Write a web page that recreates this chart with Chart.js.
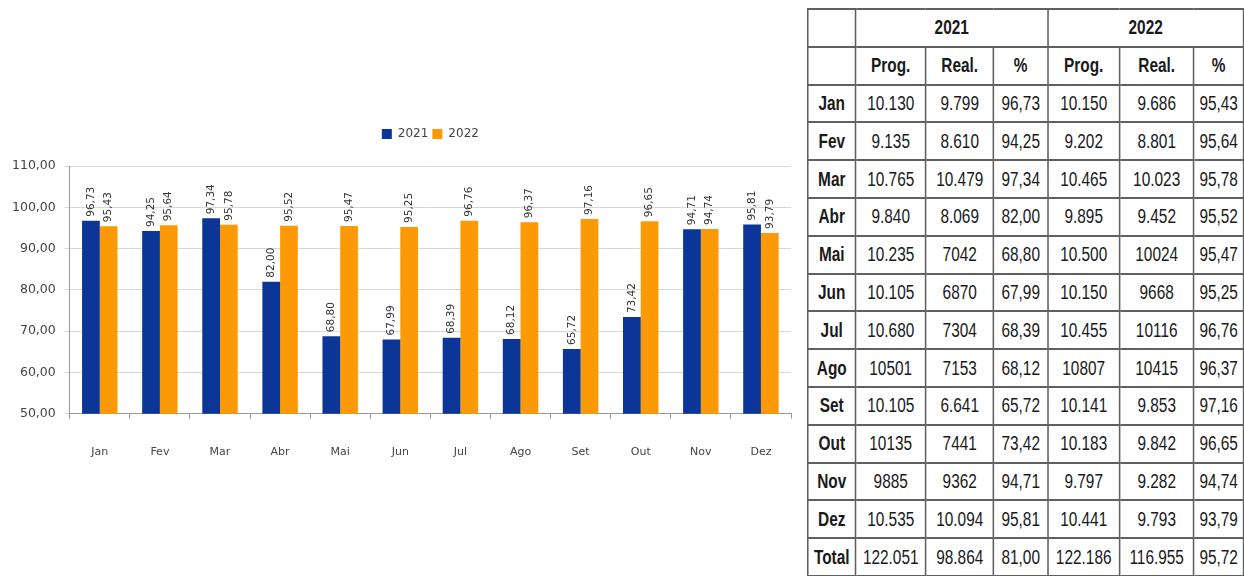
<!DOCTYPE html>
<html>
<head>
<meta charset="utf-8">
<script src="https://cdn.jsdelivr.net/npm/chart.js@4/dist/chart.umd.min.js"></script>
<style>
  body { margin: 0; background: #fff; width: 1244px; height: 576px; overflow: hidden; position: relative; }
  #chartBox { position: absolute; left: 0; top: 0; width: 800px; height: 576px; }
  #tbl { position: absolute; left: 807px; top: 8px; border-collapse: collapse; table-layout: fixed;
         transform: scaleX(0.77); transform-origin: 0 0;
         font-family: "Liberation Sans", Arial, sans-serif; font-size: 20px; color: #1a1a1a; }
  #tbl td { border: 2px solid #606060; height: 35.8px; padding: 0; text-align: center; white-space: nowrap; overflow: hidden; }
  #tbl td.b { font-weight: bold; }
</style>
</head>
<body>
<div id="chartBox"><canvas id="barChart"></canvas></div>
<table id="tbl"></table>
<script>
// chart data
var months = ["Jan", "Fev", "Mar", "Abr", "Mai", "Jun", "Jul", "Ago", "Set", "Out", "Nov", "Dez"];
var pct2021 = [96.73, 94.25, 97.34, 82.00, 68.80, 67.99, 68.39, 68.12, 65.72, 73.42, 94.71, 95.81];
var pct2022 = [95.43, 95.64, 95.78, 95.52, 95.47, 95.25, 96.76, 96.37, 97.16, 96.65, 94.74, 93.79];

// table data (as printed)
var tblRows = ["Jan", "Fev", "Mar", "Abr", "Mai", "Jun", "Jul", "Ago", "Set", "Out", "Nov", "Dez", "Total"];
var prog2021 = ["10.130", "9.135", "10.765", "9.840", "10.235", "10.105", "10.680", "10501", "10.105", "10135", "9885", "10.535", "122.051"];
var real2021 = ["9.799", "8.610", "10.479", "8.069", "7042", "6870", "7304", "7153", "6.641", "7441", "9362", "10.094", "98.864"];
var perc2021 = ["96,73", "94,25", "97,34", "82,00", "68,80", "67,99", "68,39", "68,12", "65,72", "73,42", "94,71", "95,81", "81,00"];
var prog2022 = ["10.150", "9.202", "10.465", "9.895", "10.500", "10.150", "10.455", "10807", "10.141", "10.183", "9.797", "10.441", "122.186"];
var real2022 = ["9.686", "8.801", "10.023", "9.452", "10024", "9668", "10116", "10415", "9.853", "9.842", "9.282", "9.793", "116.955"];
var perc2022 = ["95,43", "95,64", "95,78", "95,52", "95,47", "95,25", "96,76", "96,37", "97,16", "96,65", "94,74", "93,79", "95,72"];

var colW = [48, 70, 68, 54, 72, 74, 50];
var squeeze = 0.77;

// build table (drawn wide, then squeezed horizontally like a condensed font)
var tbl = document.getElementById("tbl");
var total = 0;
var cg = "<colgroup>";
colW.forEach(function (w) { cg += '<col style="width:' + (w / squeeze).toFixed(1) + 'px">'; total += w / squeeze; });
cg += "</colgroup>";
tbl.style.width = total.toFixed(1) + "px";
var html = cg;
html += '<tr><td></td><td class="b" colspan="3">2021</td><td class="b" colspan="3">2022</td></tr>';
html += '<tr><td></td><td class="b">Prog.</td><td class="b">Real.</td><td class="b">%</td><td class="b">Prog.</td><td class="b">Real.</td><td class="b">%</td></tr>';
tblRows.forEach(function (m, i) {
    html += '<tr><td class="b">' + m + '</td><td>' + prog2021[i] + '</td><td>' + real2021[i] + '</td><td>' + perc2021[i] +
        '</td><td>' + prog2022[i] + '</td><td>' + real2022[i] + '</td><td>' + perc2022[i] + '</td></tr>';
});
tbl.innerHTML = html;

function fmt(v) { return v.toFixed(2).replace(".", ","); }

// rotated value labels above bars
var barLabels = {
    id: "barLabels",
    afterDatasetsDraw: function (chart) {
        var ctx = chart.ctx;
        ctx.save();
        ctx.font = "10.5px 'DejaVu Sans'";
        ctx.fillStyle = "#333";
        ctx.textAlign = "left";
        ctx.textBaseline = "middle";
        chart.data.datasets.forEach(function (ds, di) {
            chart.getDatasetMeta(di).data.forEach(function (bar, i) {
                ctx.save();
                ctx.translate(bar.x, bar.y - 4);
                ctx.rotate(-Math.PI / 2);
                ctx.fillText(fmt(ds.data[i]), 0, 0);
                ctx.restore();
            });
        });
        ctx.restore();
    }
};

// extra gap under the legend
var legendGap = {
    id: "legendGap",
    beforeInit: function (chart) {
        var origFit = chart.legend.fit;
        chart.legend.fit = function () {
            origFit.call(this);
            this.height += 16;
        };
    }
};

new Chart(document.getElementById("barChart"), {
    type: "bar",
    data: {
        labels: months,
        datasets: [
            { label: "2021", data: pct2021, backgroundColor: "#0b3596" },
            { label: "2022", data: pct2022, backgroundColor: "#fb9a06" }
        ]
    },
    options: {
        responsive: true,
        maintainAspectRatio: false,
        animation: false,
        layout: { padding: { top: 124, left: 3, right: 9, bottom: 90 } },
        datasets: { bar: { categoryPercentage: 0.59, barPercentage: 1.0 } },
        scales: {
            x: {
                grid: { display: true, drawOnChartArea: false, tickLength: 5, color: "#999" },
                border: { color: "#999" },
                ticks: { color: "#444", font: { family: "DejaVu Sans", size: 11 }, padding: 27 }
            },
            y: {
                min: 50, max: 110,
                ticks: { stepSize: 10, color: "#444", font: { family: "DejaVu Sans", size: 12.5 }, padding: 9,
                    callback: function (v) { return fmt(v); } },
                grid: { color: "#d8d8d8", tickLength: 5 },
                border: { color: "#999" }
            }
        },
        plugins: {
            legend: {
                display: true,
                position: "top",
                fullSize: false,
                labels: { boxWidth: 10, boxHeight: 10, padding: 4, color: "#444",
                    font: { family: "DejaVu Sans", size: 12 } }
            },
            tooltip: { enabled: false }
        }
    },
    plugins: [barLabels, legendGap]
});
</script>
</body>
</html>
